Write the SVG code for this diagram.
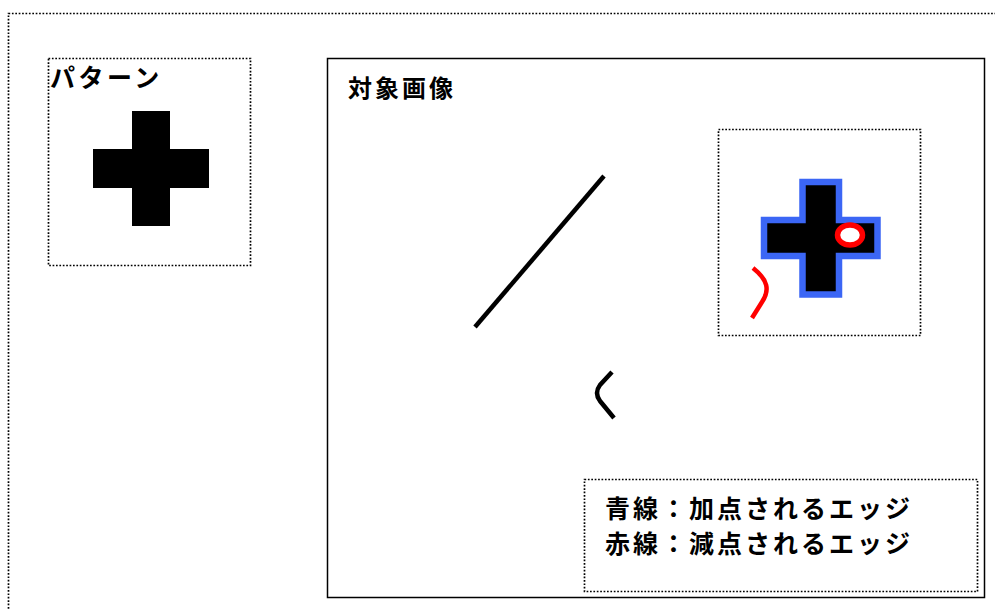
<svg xmlns="http://www.w3.org/2000/svg" width="995" height="610" viewBox="0 0 995 610">
<style>
.dot{fill:none;stroke:#000;stroke-width:1.7;stroke-dasharray:1.7 1.7}
.lbl{font-family:"Noto Sans CJK JP","Noto Sans",sans-serif;font-weight:bold;fill:#000}
.edge{fill:none;stroke:#000;stroke-width:4.5}
</style>
<rect width="995" height="610" fill="#fff"/>
<g id="frame"><rect class="dot" x="8.5" y="13.5" width="1000" height="610"/></g>
<g id="pattern">
<rect class="dot" x="48.5" y="58.5" width="202" height="207"/>
<text class="lbl" x="50" y="87" font-size="25" letter-spacing="3.5">パターン</text>
<path d="M132,111H170V149H209V188H170V226H132V188H93V149H132Z" fill="#000"/>
</g>
<g id="target">
<rect x="327.5" y="58.5" width="657" height="539" fill="none" stroke="#000" stroke-width="1.5"/>
<text class="lbl" x="348" y="97" font-size="24" letter-spacing="3">対象画像</text>
<line class="edge" x1="475" y1="327" x2="604" y2="176"/>
<path class="edge" d="M612,372L600,385Q594,393 600,401L614,418"/>
</g>
<g id="match">
<rect class="dot" x="718.5" y="129.5" width="202" height="206"/>
<path d="M802.5,182H839V220H877.5V256H839V294.5H802.5V256H764V220H802.5Z" fill="#000" stroke="#3b66f5" stroke-width="6.5"/>
<ellipse cx="850" cy="235" rx="12.5" ry="10" fill="#fff" stroke="#f00" stroke-width="5.5"/>
<path d="M753,268C768,280 770,290 762,302L752,318" fill="none" stroke="#f00" stroke-width="4.5"/>
</g>
<g id="legend">
<rect class="dot" x="584.5" y="479.5" width="393" height="112"/>
<text class="lbl" x="605" y="518" font-size="25" letter-spacing="3">青線：加点されるエッジ</text>
<text class="lbl" x="605" y="553" font-size="25" letter-spacing="3">赤線：減点されるエッジ</text>
</g>
<g id="connectors"></g>
</svg>
